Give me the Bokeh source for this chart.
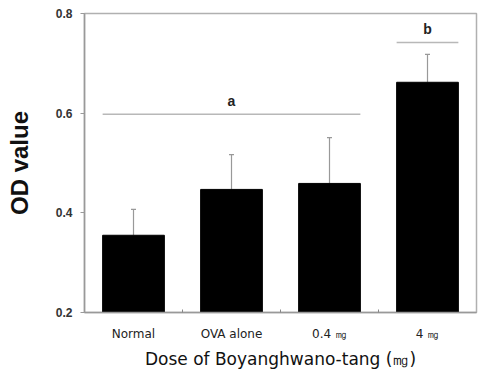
import numpy as np
from bokeh.plotting import figure
from bokeh.models import Range1d, FixedTicker, Whisker, TeeHead, ColumnDataSource, Label
from bokeh.embed import file_html
from bokeh.resources import INLINE

categories = ["Normal", "OVA alone", "0.4 ㎎", "4 ㎎"]
od_mean = [0.355, 0.447, 0.459, 0.662]
od_err = [0.052, 0.070, 0.092, 0.056]
y_ticks = [0.2, 0.4, 0.6, 0.8]
groups = [("a", 0, 2, 0.598), ("b", 3, 3, 0.742)]

xpos = np.arange(len(categories)) + 0.5
upper = [m + e for m, e in zip(od_mean, od_err)]
src = ColumnDataSource(dict(x=xpos, top=od_mean, upper=upper))

p = figure(width=478, height=371, output_backend="svg", toolbar_location=None,
           x_range=Range1d(0, len(categories)), y_range=Range1d(0.2, 0.8),
           min_border_left=84, min_border_right=2, min_border_top=13, min_border_bottom=57)
p.grid.visible = False
p.outline_line_color = "#b0b0b0"
p.outline_line_width = 1.5
p.background_fill_color = "white"
p.border_fill_color = "white"

p.vbar(x="x", top="top", bottom=0.2, width=0.63, source=src, fill_color="black", line_color="black")
w = Whisker(base="x", lower="top", upper="upper", source=src, line_color="#999999", line_width=1.2,
            lower_head=None, upper_head=TeeHead(size=5, line_color="#999999", line_width=1.2))
p.add_layout(w)

for lab, i0, i1, yv in groups:
    x0 = xpos[i0] - 0.315
    x1 = xpos[i1] + 0.315
    p.segment(x0=[x0], y0=[yv], x1=[x1], y1=[yv], line_color="#b8b8b8", line_width=1.5)
    p.add_layout(Label(x=(x0 + x1) / 2, y=yv, text=lab, text_align="center", y_offset=5,
                       text_font="Liberation Sans", text_font_size="14px", text_font_style="bold",
                       text_color="#222222"))

# x axis
xt = FixedTicker(ticks=list(xpos), minor_ticks=[1, 2, 3])
p.xaxis.ticker = xt
p.xaxis.major_label_overrides = {float(x): c for x, c in zip(xpos, categories)}
p.xaxis.major_tick_line_color = None
p.xaxis.minor_tick_in = 3
p.xaxis.minor_tick_out = 0
p.xaxis.minor_tick_line_color = "#888888"
p.xaxis.axis_line_color = "#999999"
p.xaxis.axis_line_width = 1.5
p.xaxis.major_label_text_font = "DejaVu Sans"
p.xaxis.major_label_text_font_size = "12px"
p.xaxis.major_label_text_color = "#222222"
p.xaxis.major_label_standoff = 8
p.xaxis.axis_label = "Dose of Boyanghwano-tang (㎎)"
p.xaxis.axis_label_text_font = "DejaVu Sans"
p.xaxis.axis_label_text_font_size = "17px"
p.xaxis.axis_label_text_font_style = "normal"
p.xaxis.axis_label_text_color = "#111111"
p.xaxis.axis_label_standoff = 5

# y axis
p.yaxis.ticker = FixedTicker(ticks=y_ticks, minor_ticks=[])
p.yaxis.major_label_overrides = {v: f"{v:.1f}" for v in y_ticks}
p.yaxis.major_tick_in = 0
p.yaxis.major_tick_out = 4
p.yaxis.major_tick_line_color = "#999999"
p.yaxis.axis_line_color = "#999999"
p.yaxis.axis_line_width = 1.5
p.yaxis.major_label_text_font = "Liberation Sans"
p.yaxis.major_label_text_font_style = "bold"
p.yaxis.major_label_text_font_size = "12px"
p.yaxis.major_label_text_color = "#333333"
p.yaxis.major_label_standoff = 8
p.yaxis.axis_label = "OD value"
p.yaxis.axis_label_text_font = "Liberation Sans"
p.yaxis.axis_label_text_font_size = "24px"
p.yaxis.axis_label_text_font_style = "bold"
p.yaxis.axis_label_text_color = "#111111"
p.yaxis.axis_label_standoff = 20

open("out.html", "w").write(file_html(p, INLINE))
